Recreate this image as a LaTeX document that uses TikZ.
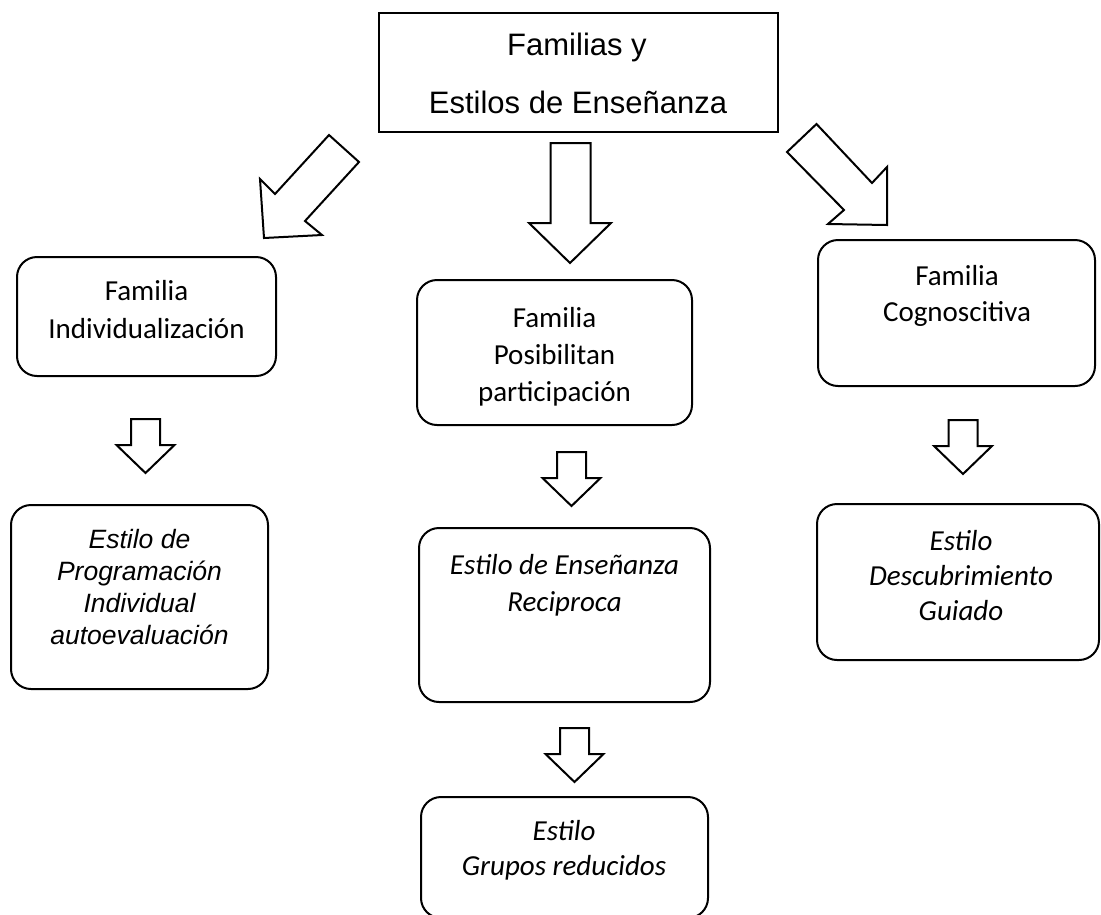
\documentclass[tikz,border=0pt]{standalone}
\usepackage{fontspec}
\newfontfamily\arialf{Liberation Sans}
\newfontfamily\calibrif{Carlito}
\begin{document}
\begin{tikzpicture}[x=1pt,y=-1pt,line width=2pt,
  sqbox/.style={draw,inner sep=0pt},
  rbox/.style={draw,rounded corners=20pt,inner sep=0pt},
  arr/.style={draw,line width=2pt,line join=miter,fill=white},
  lbl/.style={anchor=base,inner sep=0pt},
  topf/.style={lbl,font=\arialf\fontsize{31}{36}\selectfont},
  arit/.style={lbl,font=\arialf\itshape\fontsize{26.5}{31}\selectfont},
  calf/.style={lbl,font=\calibrif\fontsize{29}{35}\selectfont},
  calit/.style={lbl,font=\calibrif\itshape\fontsize{29}{35}\selectfont},
  pics/smallarrow/.style={code={
    \draw[arr] (-14.5,0) -- (14.5,0) -- (14.5,26) -- (29,26) -- (0,54) -- (-29,26) -- (-14.5,26) -- cycle;}}
]
\useasboundingbox[fill=white] (0,0) rectangle (1101,914);

% top box
\node[sqbox,minimum width=399pt,minimum height=119pt] (top) at (578.5,72.5) {};
\node[topf] (topa) at (577,55) {Familias y};
\node[topf] (topb) at (578,113) {Estilos de Enseñanza};

% big arrows
\draw[arr] (329,135) -- (359,162) -- (305,221) -- (322,235) -- (264,238) -- (260,179) -- (275,194) -- cycle;
\draw[arr] (550.5,143) -- (590.5,143) -- (590.5,223) -- (611,223) -- (570,263) -- (529,223) -- (550.5,223) -- cycle;
\draw[arr] (816.5,124) -- (787,152) -- (844,210) -- (828,224) -- (887,225) -- (887,167) -- (872,183) -- cycle;

% first row boxes
\node[rbox,minimum width=259pt,minimum height=119pt] (L1) at (146.5,316.5) {};
\node[calf] (L1a) at (146.5,300) {Familia};
\node[calf] (L1b) at (146.5,338) {Individualización};

\node[rbox,minimum width=275pt,minimum height=145pt] (M1) at (554.5,352.5) {};
\node[calf] (M1a) at (554.5,327) {Familia};
\node[calf] (M1b) at (554.5,364) {Posibilitan};
\node[calf] (M1c) at (554.5,401) {participación};

\node[rbox,minimum width=277pt,minimum height=146pt] (R1) at (956.5,313) {};
\node[calf] (R1a) at (957,285) {Familia};
\node[calf] (R1b) at (957,321) {Cognoscitiva};

% small arrows
\pic at (145.5,419) {smallarrow};
\pic at (571.5,452) {smallarrow};
\pic at (963,420) {smallarrow};
\pic at (574.5,728) {smallarrow};

% second row boxes
\node[rbox,minimum width=257pt,minimum height=184pt] (L2) at (139.5,597) {};
\node[arit] (L2a) at (139.5,548) {Estilo de};
\node[arit] (L2b) at (139.5,580) {Programación};
\node[arit] (L2c) at (139.5,612) {Individual};
\node[arit] (L2d) at (139.5,644) {autoevaluación};

\node[rbox,minimum width=291pt,minimum height=174pt] (M2) at (564.5,615) {};
\node[calit] (M2a) at (564.5,574) {Estilo de Enseñanza};
\node[calit] (M2b) at (564.5,611) {Reciproca};

\node[rbox,minimum width=282pt,minimum height=156pt] (R2) at (958,582) {};
\node[calit] (R2a) at (961,550) {Estilo};
\node[calit] (R2b) at (961,585) {Descubrimiento};
\node[calit] (R2c) at (961,620) {Guiado};

% bottom box
\node[rbox,minimum width=287pt,minimum height=121pt] (B) at (564.5,857.5) {};
\node[calit] (Ba) at (564,840) {Estilo};
\node[calit] (Bb) at (564,875) {Grupos reducidos};
\end{tikzpicture}
\end{document}
